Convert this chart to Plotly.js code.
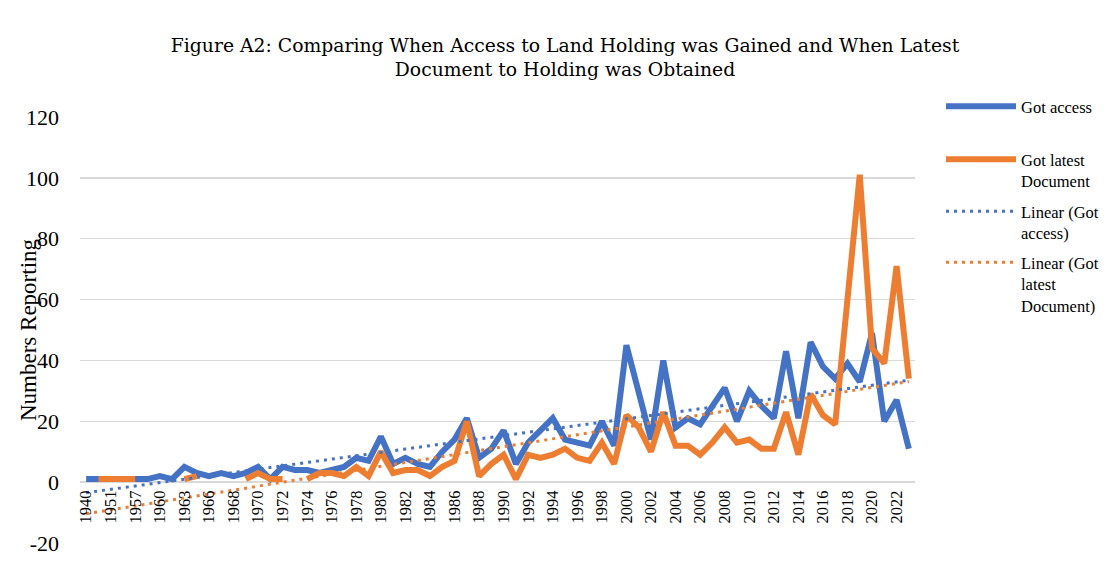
<!DOCTYPE html>
<html>
<head>
<meta charset="utf-8">
<script src="https://cdn.plot.ly/plotly-3.0.1.min.js"></script>
<style>html,body{margin:0;padding:0;background:#fff;}#chart{width:1110px;height:562px;}</style>
</head>
<body>
<div id="chart"></div>
<script>
const categories = ['1940','1945','1951','1954','1957','1959','1960','1962','1963','1965',
  '1966','1967','1968','1969','1970','1971','1972','1973','1974','1975',
  '1976','1977','1978','1979','1980','1981','1982','1983','1984','1985',
  '1986','1987','1988','1989','1990','1991','1992','1993','1994','1995',
  '1996','1997','1998','1999','2000','2001','2002','2003','2004','2005',
  '2006','2007','2008','2009','2010','2011','2012','2013','2014','2015',
  '2016','2017','2018','2019','2020','2021','2022','2023'];

const tickLabels = ['1940','1951','1957','1960','1963','1966','1968','1970','1972','1974',
  '1976','1978','1980','1982','1984','1986','1988','1990','1992','1994','1996','1998',
  '2000','2002','2004','2006','2008','2010','2012','2014','2016','2018','2020','2022'];

const yTickValues = [-20,0,20,40,60,80,100,120];
const yTickLabels = ['-20','0','20','40','60','80','100','120'];

const gotAccess = [1,1,1,1,1,1,2,1,5,3,
  2,3,2,3,5,1,5,4,4,3,
  4,5,8,7,15,6,8,6,5,10,
  14,21,8,11,17,6,13,17,21,14,
  13,12,20,12,45,29,14,40,18,21,
  19,25,31,20,30,25,21,43,21,46,
  38,34,39,33,49,20,27,11];

const gotLatestDocument = [null,1,1,1,1,null,null,null,1,2,
  null,null,null,1,3,1,1,null,1,3,
  3,2,5,2,10,3,4,4,2,5,
  7,20,2,6,9,1,9,8,9,11,
  8,7,13,6,22,18,10,23,12,12,
  9,13,18,13,14,11,11,23,9,29,
  22,19,60,101,44,39,71,34];

// Excel-style linear trendline (least squares on category index, blanks skipped)
function linearTrend(vals){
  let n=0,sx=0,sy=0,sxx=0,sxy=0;
  vals.forEach((v,i)=>{ if(v!==null){ const x=i+1; n++; sx+=x; sy+=v; sxx+=x*x; sxy+=x*v; } });
  const b=(n*sxy-sx*sy)/(n*sxx-sx*sx), a=(sy-b*sx)/n;
  return vals.map((v,i)=>a+b*(i+1));
}

const BLUE='#4472C4', ORANGE='#ED7D31';
const FONT='"Liberation Serif", "Times New Roman", serif';
const TFONT='"DejaVu Serif", "Liberation Serif", serif';

const traces = [
  {x:categories, y:gotAccess, type:'scatter', mode:'lines', name:'Got access',
   line:{color:BLUE, width:6}, legend:'legend'},
  {x:categories, y:gotLatestDocument, type:'scatter', mode:'lines', name:'Got latest<br>Document',
   line:{color:ORANGE, width:6}, connectgaps:false, legend:'legend2'},
  {x:categories, y:linearTrend(gotAccess), type:'scatter', mode:'lines', name:'Linear (Got<br>access)',
   line:{color:BLUE, width:3, dash:'3px,5px'}, legend:'legend3'},
  {x:categories, y:linearTrend(gotLatestDocument), type:'scatter', mode:'lines', name:'Linear (Got<br>latest<br>Document)',
   line:{color:ORANGE, width:3, dash:'3px,5px'}, legend:'legend4'}
];

function leg(topPx){
  return {xref:'container', yref:'container', x:941/1110, y:1-topPx/562, xanchor:'left', yanchor:'top',
    font:{family:FONT, size:16.5, color:'#000'}, bgcolor:'rgba(0,0,0,0)', itemwidth:70, valign:'top',
    itemclick:false, itemdoubleclick:false};
}

const layout = {
  width:1110, height:562,
  margin:{l:80, r:195, t:117, b:19},
  paper_bgcolor:'#fff', plot_bgcolor:'#fff',
  font:{family:FONT, color:'#000'},
  title:{text:'Figure A2: Comparing When Access to Land Holding was Gained and When Latest<br>Document to Holding was Obtained',
    xref:'container', yref:'container', x:565/1110, xanchor:'center', y:1-52/562, yanchor:'middle',
    font:{family:TFONT, size:18.8, color:'#000'}},
  xaxis:{type:'category', range:[-0.5, categories.length-0.5], anchor:'free', position:20/140,
    tickmode:'array', tickvals:tickLabels, ticktext:tickLabels, tickangle:-90,
    tickfont:{family:FONT, size:16.5, color:'#000'}, showgrid:false, showline:false, zeroline:false,
    ticks:'', ticklabelstandoff:4, fixedrange:true},
  yaxis:{range:[-20,120], tickmode:'array', tickvals:yTickValues, ticktext:yTickLabels,
    showgrid:true, gridcolor:'#d9d9d9', gridwidth:1.5,
    zeroline:true, zerolinecolor:'#d9d9d9', zerolinewidth:1.5, showline:false, ticks:'',
    tickfont:{family:FONT, size:22, color:'#000'}, ticklabelstandoff:20, fixedrange:true},
  showlegend:true,
  legend:leg(89), legend2:leg(142), legend3:leg(194), legend4:leg(245),
  annotations:[{text:'Numbers Reporting', xref:'paper', yref:'paper', x:(28-80)/835, y:0.5,
    xanchor:'center', yanchor:'middle', textangle:-90, showarrow:false,
    font:{family:FONT, size:23, color:'#000'}}]
};

Plotly.newPlot('chart', traces, layout, {displayModeBar:false, staticPlot:true});
</script>
</body>
</html>
